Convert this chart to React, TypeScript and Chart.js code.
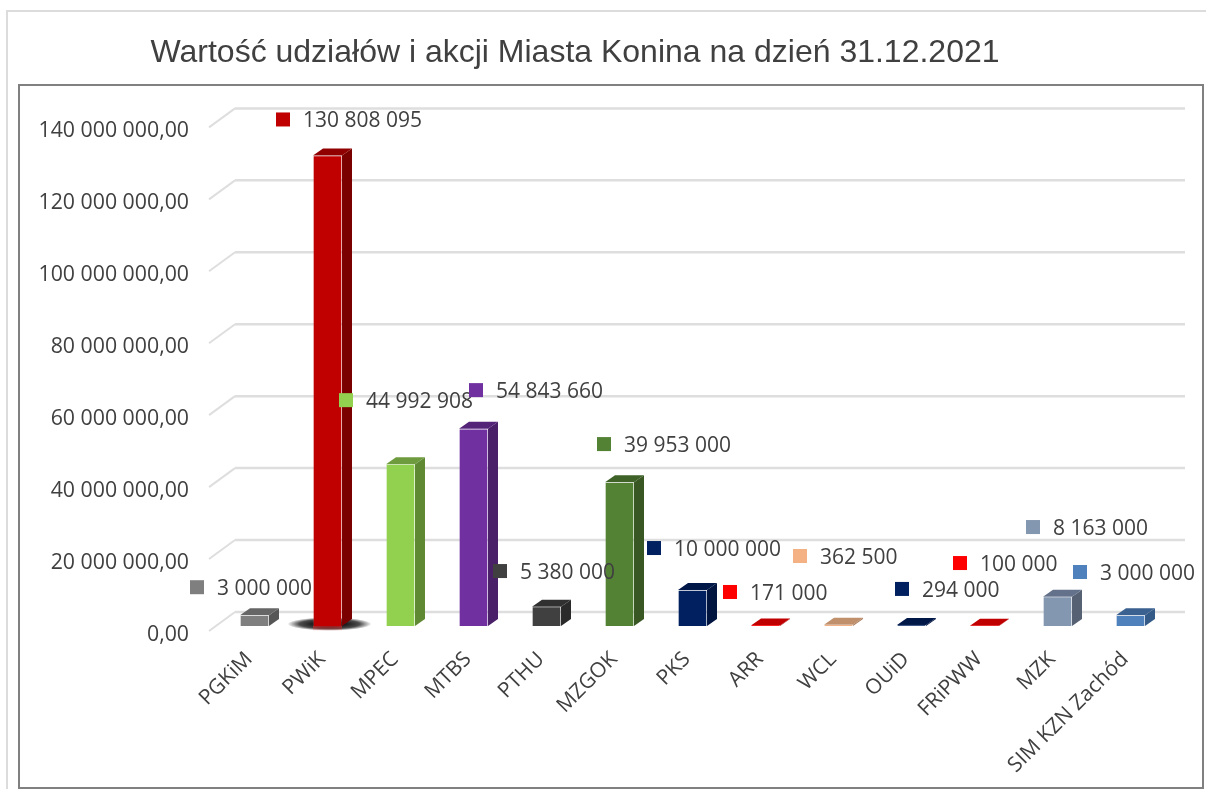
import React, { useEffect, useRef } from "react";
import { Chart, registerables } from "chart.js";

Chart.register(...registerables);

const categories = ["PGKiM", "PWiK", "MPEC", "MTBS", "PTHU", "MZGOK", "PKS", "ARR", "WCL", "OUiD", "FRiPWW", "MZK", "SIM KZN Zachód"];
const values = [3000000, 130808095, 44992908, 54843660, 5380000, 39953000, 10000000, 171000, 362500, 294000, 100000, 8163000, 3000000];
const valueLabels = ["3 000 000", "130 808 095", "44 992 908", "54 843 660", "5 380 000", "39 953 000", "10 000 000", "171 000", "362 500", "294 000", "100 000", "8 163 000", "3 000 000"];

const frontColors = ["#7f7f7f", "#c00000", "#92d050", "#7030a0", "#404040", "#548235", "#002060", "#ff0000", "#f4b183", "#002060", "#ff0000", "#8497b0", "#4f81bd"];
const sideColors = ["#565656", "#7a0000", "#5f8a33", "#4a2069", "#2a2a2a", "#385722", "#001440", "#a00000", "#a87a5a", "#001440", "#a00000", "#566173", "#345a88"];
const topColors = ["#666666", "#900000", "#6e9b3e", "#542478", "#303030", "#3f6228", "#001848", "#c00000", "#c08f6c", "#001848", "#c00000", "#63718a", "#3a6190"];

// label key offsets from the top centre of each bar, in px
const labelDx = [-57.5, -44.5, -54.5, 2.5, -46.5, -15.5, -38.5, -35.5, -38.5, -9.5, -24.5, -24.5, -50.5];
const labelDy = [-28, -36, -64, -38.6, -35.6, -38.2, -42, -33.4, -68.7, -36, -62.6, -69.6, -43.2];

const TEXT = "#404040";
const FONT = "'Open Sans'";
const DEPTH_X = 10;
const DEPTH_Y = 7;

function formatTick(v: number) {
  const s = Math.round(v).toString().replace(/\B(?=(\d{3})+(?!\d))/g, " ");
  return s + ",00";
}

const polygon = (ctx: CanvasRenderingContext2D, pts: number[][], fill: string) => {
  ctx.beginPath();
  pts.forEach(([x, y], i) => (i ? ctx.lineTo(x, y) : ctx.moveTo(x, y)));
  ctx.closePath();
  ctx.fillStyle = fill;
  ctx.fill();
};

const chrome3d = {
  id: "chrome3d",
  afterLayout(chart: any) {
    chart.titleBlock.left = 0;
    chart.titleBlock.right = 1150;
  },
  beforeDraw(chart: any) {
    const ctx: CanvasRenderingContext2D = chart.ctx;
    ctx.save();
    ctx.strokeStyle = "#dcdcdc";
    ctx.lineWidth = 2;
    ctx.beginPath();
    ctx.moveTo(7, 789);
    ctx.lineTo(7, 11);
    ctx.lineTo(1206, 11);
    ctx.stroke();
    ctx.strokeStyle = "#808080";
    ctx.strokeRect(19, 85, 1184, 703);
    ctx.restore();
  },
  beforeDatasetsDraw(chart: any) {
    const ctx: CanvasRenderingContext2D = chart.ctx;
    const { chartArea, scales } = chart;
    ctx.save();
    // grid with a 3D wall and floor
    scales.y.ticks.forEach((t: any) => {
      const y = scales.y.getPixelForValue(t.value);
      const fx = chartArea.left - 9;
      const bx = chartArea.left + 17;
      ctx.strokeStyle = "#dedede";
      ctx.lineWidth = 2;
      ctx.beginPath();
      ctx.moveTo(fx, y + 5);
      ctx.lineTo(bx, y - 14);
      ctx.stroke();
      ctx.lineWidth = 2.5;
      ctx.beginPath();
      ctx.moveTo(bx, y - 14);
      ctx.lineTo(chartArea.right + 18, y - 14);
      ctx.stroke();
    });
    const meta = chart.getDatasetMeta(0);
    // floor shadow of the tallest bar
    let tallest = 0;
    values.forEach((v, i) => { if (v > values[tallest]) tallest = i; });
    const tb = meta.data[tallest];
    ctx.save();
    ctx.translate(tb.x + 2, tb.base - 2);
    ctx.scale(1, 0.16);
    const g = ctx.createRadialGradient(0, 0, 12, 0, 0, 42);
    g.addColorStop(0, "rgba(0,0,0,0.95)");
    g.addColorStop(0.6, "rgba(0,0,0,0.7)");
    g.addColorStop(1, "rgba(0,0,0,0)");
    ctx.fillStyle = g;
    ctx.beginPath();
    ctx.arc(0, 0, 42, 0, Math.PI * 2);
    ctx.fill();
    ctx.restore();
    const glow = ctx.createLinearGradient(0, tb.base, 0, tb.base + 5);
    glow.addColorStop(0, "rgba(255,40,40,0.6)");
    glow.addColorStop(1, "rgba(255,40,40,0)");
    ctx.fillStyle = glow;
    ctx.fillRect(tb.x - tb.width / 2, tb.base, tb.width, 5);
    // bar sides and tops
    meta.data.forEach((b: any, i: number) => {
      const l = b.x - b.width / 2;
      const r = b.x + b.width / 2;
      polygon(ctx, [[r, b.y], [r + DEPTH_X, b.y - DEPTH_Y], [r + DEPTH_X, b.base - DEPTH_Y], [r, b.base]], sideColors[i]);
      polygon(ctx, [[l, b.y], [l + DEPTH_X, b.y - DEPTH_Y], [r + DEPTH_X, b.y - DEPTH_Y], [r, b.y]], topColors[i]);
    });
    ctx.restore();
  },
  afterDatasetsDraw(chart: any) {
    const ctx: CanvasRenderingContext2D = chart.ctx;
    const meta = chart.getDatasetMeta(0);
    ctx.save();
    ctx.font = `21px ${FONT}`;
    ctx.textBaseline = "middle";
    ctx.textAlign = "left";
    meta.data.forEach((b: any, i: number) => {
      const cx = b.x + labelDx[i];
      const cy = b.y + labelDy[i];
      ctx.fillStyle = frontColors[i];
      ctx.fillRect(cx - 7, cy - 7, 14, 14);
      ctx.fillStyle = TEXT;
      ctx.fillText(valueLabels[i], cx + 20, cy + 2);
    });
    ctx.restore();
  },
};

export default function App() {
  const ref = useRef<HTMLCanvasElement>(null);
  useEffect(() => {
    const chart = new Chart(ref.current as HTMLCanvasElement, {
      type: "bar",
      plugins: [chrome3d],
      data: {
        labels: categories,
        datasets: [
          {
            label: "Wartość",
            data: values,
            backgroundColor: frontColors,
            borderColor: "rgba(255,255,255,0.12)",
            borderWidth: 1,
            barThickness: 29,
          },
        ],
      },
      options: {
        animation: false,
        responsive: false,
        layout: { padding: { right: 39 } },
        plugins: {
          legend: { display: false },
          tooltip: { enabled: false },
          title: {
            display: true,
            text: "Wartość udziałów i akcji Miasta Konina na dzień 31.12.2021",
            color: TEXT,
            font: { family: "'Liberation Sans'", size: 32, weight: "normal", lineHeight: 1.2 },
            padding: { top: 34, bottom: 50 },
          },
        },
        scales: {
          x: {
            grid: { display: false },
            border: { display: false },
            ticks: {
              autoSkip: false,
              minRotation: 45,
              maxRotation: 45,
              color: TEXT,
              padding: 13,
              labelOffset: -5.5,
              font: { family: FONT, size: 21 },
            },
            afterFit: (s: any) => { s.height = 163; },
          },
          y: {
            min: 0,
            max: 140000000,
            grid: { display: false },
            border: { display: false },
            ticks: {
              stepSize: 20000000,
              color: TEXT,
              padding: 21,
              labelOffset: 9,
              font: { family: FONT, size: 21.3 },
              callback: (v: any) => formatTick(Number(v)),
            },
            afterFit: (s: any) => { s.width = 218; s.paddingRight = 0; },
          },
        },
      },
    } as any);
    return () => chart.destroy();
  }, []);
  return (
    <div style={{ position: "absolute", left: 0, top: 0, width: 1206, height: 789, overflow: "hidden" }}>
      <canvas ref={ref} width={1206} height={789} style={{ display: "block" }} />
    </div>
  );
}
